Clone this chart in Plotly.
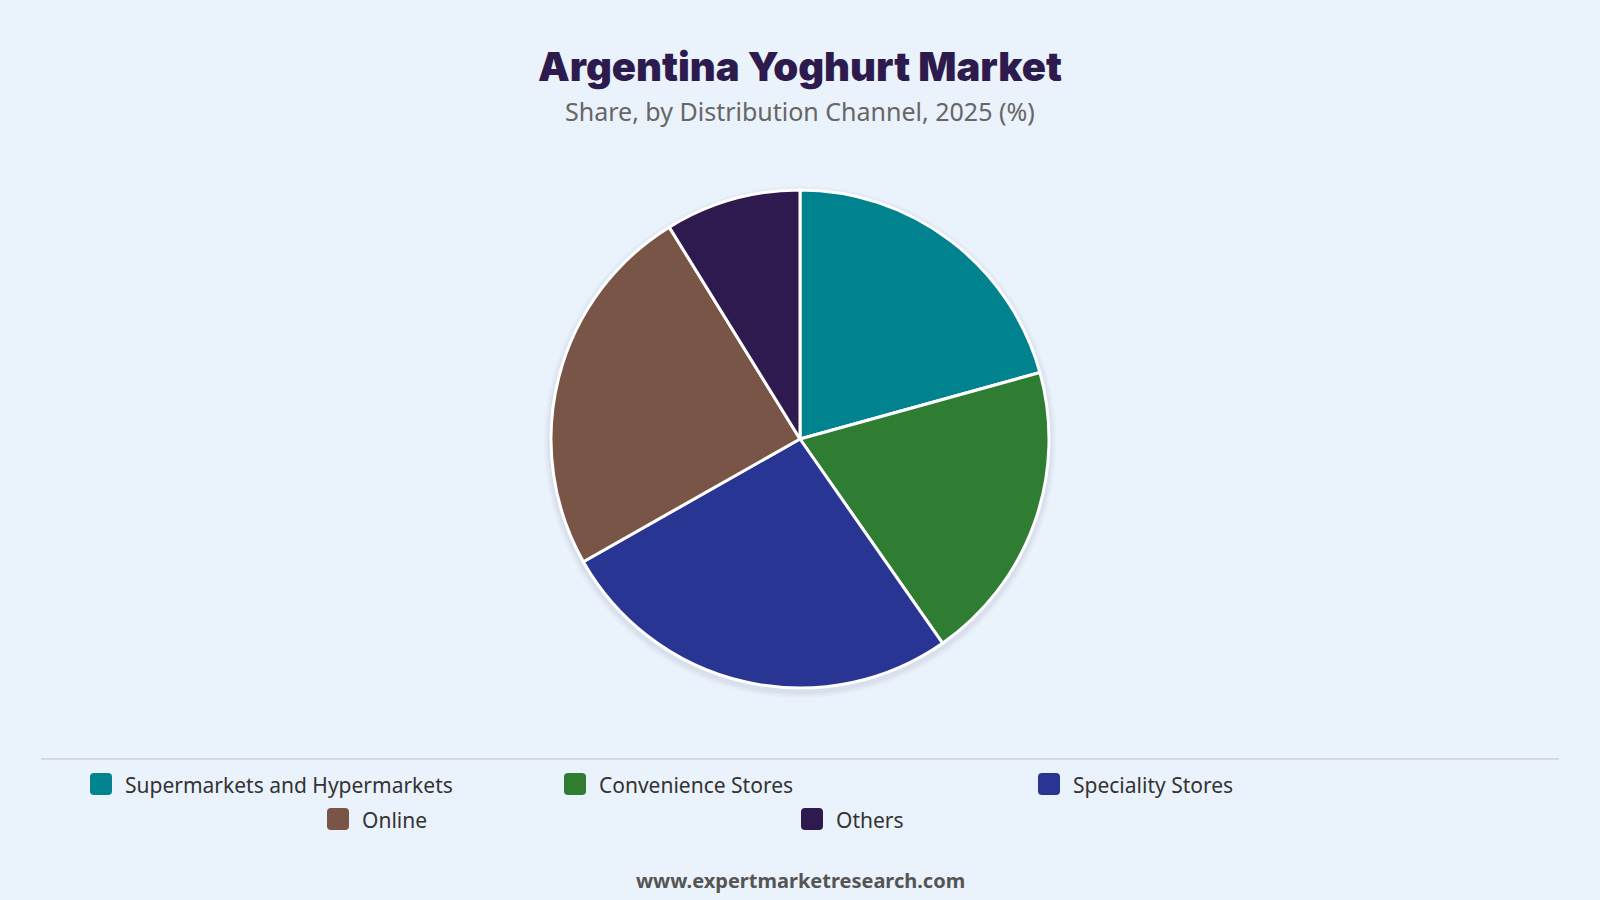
import plotly.graph_objects as go

categories = ["Supermarkets and Hypermarkets", "Convenience Stores", "Speciality Stores", "Online", "Others"]
shares = [20.7, 19.6, 26.5, 24.4, 8.8]
colors = ["#00838F", "#2E7D32", "#283593", "#795548", "#2E1A4F"]

title_text = "Argentina Yoghurt Market"
subtitle_text = "Share, by Distribution Channel, 2025 (%)"
footer_text = "www.expertmarketresearch.com"

W, H = 1600, 900
BG = "#EAF2FB"

def px(x):
    return x / W

def py(y):
    return 1 - y / H

# pie geometry (pixels)
cx, cy, r = 800, 439, 249

fig = go.Figure()
fig.add_trace(go.Pie(
    labels=categories,
    values=shares,
    sort=False,
    direction="clockwise",
    rotation=0,
    marker=dict(colors=colors, line=dict(color="white", width=3)),
    textinfo="none",
    showlegend=False,
    domain=dict(x=[px(cx - r), px(cx + r)], y=[py(cy + r), py(cy - r)]),
    hovertemplate="%{label}: %{value}%<extra></extra>",
))

shapes = []
# soft shadow behind pie
for i, a in enumerate([0.025, 0.03, 0.035]):
    rr = r + 7 - i * 2
    shapes.append(dict(type="circle", xref="paper", yref="paper", layer="below",
                       x0=px(cx - rr), x1=px(cx + rr), y0=py(cy + 3 + rr), y1=py(cy + 3 - rr),
                       fillcolor=f"rgba(40,50,80,{a})", line=dict(width=0)))

# divider line
shapes.append(dict(type="line", xref="paper", yref="paper",
                   x0=px(41), x1=px(1559), y0=py(759), y1=py(759),
                   line=dict(color="#D5DAE1", width=2)))

annotations = [
    dict(text=title_text, x=0.5, y=py(67), xref="paper", yref="paper",
         xanchor="center", yanchor="middle", showarrow=False,
         font=dict(family="Inter", size=40, color="#2D1B4E", weight=900)),
    dict(text=subtitle_text, x=0.5, y=py(111), xref="paper", yref="paper",
         xanchor="center", yanchor="middle", showarrow=False,
         font=dict(family="Noto Sans", size=25, color="#666666")),
    dict(text=f"<b>{footer_text}</b>", x=0.5, y=py(880), xref="paper", yref="paper",
         xanchor="center", yanchor="middle", showarrow=False,
         font=dict(family="Noto Sans", size=20, color="#555555")),
]

# custom centred, wrapping legend
item_w = 474
per_row = 3
row_y = [784, 819]
sw = 22
rad = 4
center_x = 801

def rounded_rect(x0, y0, x1, y1, rr):
    pts = [
        f"M {px(x0 + rr)} {py(y0)}",
        f"L {px(x1 - rr)} {py(y0)}",
        f"Q {px(x1)} {py(y0)} {px(x1)} {py(y0 + rr)}",
        f"L {px(x1)} {py(y1 - rr)}",
        f"Q {px(x1)} {py(y1)} {px(x1 - rr)} {py(y1)}",
        f"L {px(x0 + rr)} {py(y1)}",
        f"Q {px(x0)} {py(y1)} {px(x0)} {py(y1 - rr)}",
        f"L {px(x0)} {py(y0 + rr)}",
        f"Q {px(x0)} {py(y0)} {px(x0 + rr)} {py(y0)}",
        "Z",
    ]
    return " ".join(pts)

n = len(categories)
for i, (lab, col) in enumerate(zip(categories, colors)):
    row = i // per_row
    idx = i % per_row
    in_row = min(per_row, n - row * per_row)
    start = center_x - in_row * item_w / 2
    x0 = start + idx * item_w
    yc = row_y[row]
    shapes.append(dict(type="path", xref="paper", yref="paper",
                       path=rounded_rect(x0, yc - sw / 2, x0 + sw, yc + sw / 2, rad),
                       fillcolor=col, line=dict(width=0)))
    annotations.append(dict(text=lab, x=px(x0 + sw + 11), y=py(yc + 1), xref="paper", yref="paper",
                            xanchor="left", yanchor="middle", showarrow=False,
                            font=dict(family="Noto Sans", size=21, color="#333333")))

fig.update_layout(
    width=W, height=H,
    paper_bgcolor=BG, plot_bgcolor=BG,
    margin=dict(l=0, r=0, t=0, b=0),
    shapes=shapes,
    annotations=annotations,
    showlegend=False,
)

fig.write_html("out.html", config={"displayModeBar": False},
               post_script="document.body.style.margin='0';document.body.style.background='" + BG + "';")
